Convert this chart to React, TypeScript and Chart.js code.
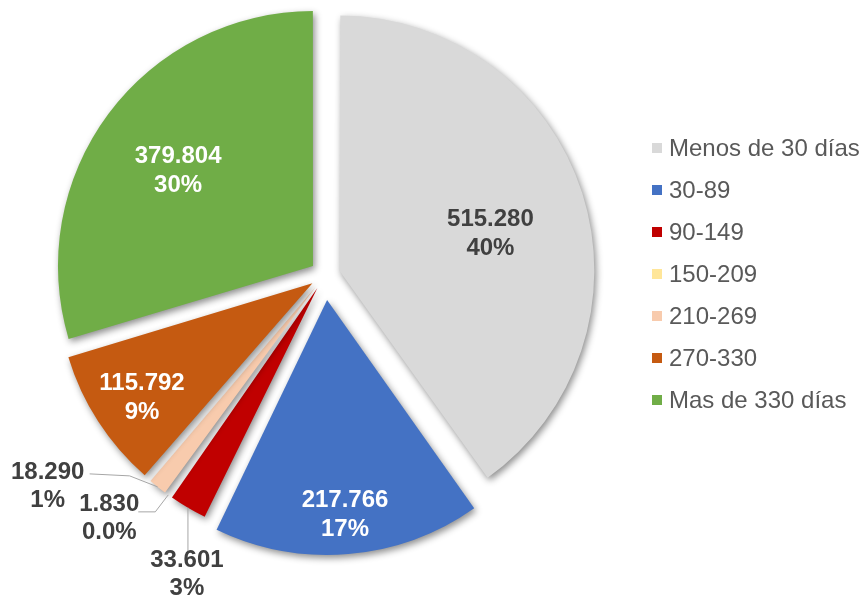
import React, { useEffect, useRef } from "react";
import { Chart, registerables } from "chart.js";

Chart.register(...registerables);

// ---- data ----
const categories = ["Menos de 30 días", "30-89", "90-149", "150-209", "210-269", "270-330", "Mas de 330 días"];
const values = [515280, 217766, 33601, 1830, 18290, 115792, 379804];
const percentLabels = ["40%", "17%", "3%", "0.0%", "1%", "9%", "30%"];

// ---- styles ----
const colors = ["#D9D9D9", "#4472C4", "#C00000", "#FFE699", "#F8CBAD", "#C55A11", "#70AD47"];
const RADIUS = 255;
const explode = [15, 25, 15, 15, 15, 15, 15];
const labelColors = ["#404040", "#FFFFFF", "#404040", "#404040", "#404040", "#FFFFFF", "#FFFFFF"];
// inside labels: radius fraction and angular shift (deg)
const insideLabels: ({ frac: number; shift: number } | null)[] = [
  { frac: 0.61, shift: 4 },
  { frac: 0.845, shift: 0 },
  null,
  null,
  null,
  { frac: 0.805, shift: -1 },
  { frac: 0.647, shift: -1.5 },
];
// outside labels: label centre relative to arc anchor, line start relative to label, elbow relative to start
const outsideLabels: ({ lx: number; ly: number; sx: number; sy: number; ex: number; ey: number } | null)[] = [
  null,
  null,
  { lx: -1, ly: 66.5, sx: 1, sy: -23, ex: 0, ey: 0 },
  { lx: -59, ly: 24, sx: 29, sy: -7, ex: 17, ey: 0 },
  { lx: -110, ly: -1, sx: 42, sy: -12, ex: 40, ey: 2 },
  null,
  null,
];

const fmt = (v: number) => String(v).replace(/\B(?=(\d{3})+(?!\d))/g, ".");
const FONT = '"Liberation Sans", Arial, sans-serif';

// Chart.js grows an offset arc's radius by offset/4*fix; undo that so all slices keep the same radius
const radiusFixPlugin = {
  id: "radiusFix",
  afterUpdate(chart: any) {
    const meta = chart.getDatasetMeta(0);
    meta.data.forEach((arc: any, i: number) => {
      const circ = arc.endAngle - arc.startAngle;
      const fix = 1 - Math.sin(Math.min(Math.PI, circ));
      arc.outerRadius = RADIUS - explode[i] * fix;
    });
  },
};

const shadowPlugin = {
  id: "sliceShadow",
  beforeDatasetsDraw(chart: any) {
    const ctx = chart.ctx;
    ctx.save();
    ctx.shadowColor = "rgba(0,0,0,0.45)";
    ctx.shadowBlur = 7;
    ctx.shadowOffsetX = 2;
    ctx.shadowOffsetY = 3;
  },
  afterDatasetsDraw(chart: any) {
    chart.ctx.restore();
  },
};

const labelPlugin = {
  id: "sliceLabels",
  afterDraw(chart: any) {
    const ctx = chart.ctx;
    const meta = chart.getDatasetMeta(0);
    ctx.save();
    ctx.textAlign = "center";
    ctx.textBaseline = "middle";
    ctx.font = `bold 24px ${FONT}`;
    meta.data.forEach((arc: any, i: number) => {
      const p = arc.getProps(["x", "y", "startAngle", "endAngle"], true);
      const mid = (p.startAngle + p.endAngle) / 2;
      const d = explode[i];
      const tx = p.x + Math.cos(mid) * d;
      const ty = p.y + Math.sin(mid) * d;
      const r = RADIUS;
      const l1 = fmt(values[i]);
      const l2 = percentLabels[i];
      const ins = insideLabels[i];
      if (ins) {
        const a = mid + (ins.shift * Math.PI) / 180;
        const cx = tx + Math.cos(a) * r * ins.frac;
        const cy = ty + Math.sin(a) * r * ins.frac;
        ctx.fillStyle = labelColors[i];
        ctx.fillText(l1, cx, cy - 14.5);
        ctx.fillText(l2, cx, cy + 14.5);
      }
      const out = outsideLabels[i];
      if (out) {
        const ax = tx + Math.cos(mid) * r;
        const ay = ty + Math.sin(mid) * r;
        const cx = ax + out.lx;
        const cy = ay + out.ly;
        ctx.fillStyle = "#404040";
        ctx.fillText(l1, cx, cy - 14);
        ctx.fillText(l2, cx, cy + 14);
        const sx = cx + out.sx;
        const sy = cy + out.sy;
        ctx.strokeStyle = "#A6A6A6";
        ctx.lineWidth = 1;
        ctx.beginPath();
        ctx.moveTo(sx, sy);
        if (out.ex || out.ey) ctx.lineTo(sx + out.ex, sy + out.ey);
        ctx.lineTo(ax, ay);
        ctx.stroke();
      }
    });
    // legend
    ctx.font = `24px ${FONT}`;
    ctx.textAlign = "left";
    const legX = 652;
    const legY = 148;
    const legGap = 42;
    categories.forEach((c, i) => {
      const y = legY + i * legGap;
      ctx.fillStyle = colors[i];
      ctx.fillRect(legX, y - 5, 10, 10);
      ctx.fillStyle = "#595959";
      ctx.fillText(c, legX + 17, y + 1);
    });
    ctx.restore();
  },
};

export default function App() {
  const ref = useRef<HTMLCanvasElement>(null);
  useEffect(() => {
    if (!ref.current) return;
    const chart = new Chart(ref.current, {
      type: "pie",
      data: {
        labels: categories,
        datasets: [
          {
            data: values,
            backgroundColor: colors,
            borderWidth: 0,
            radius: RADIUS,
            offset: explode.map((d) => 4 * d),
          } as any,
        ],
      },
      options: {
        responsive: false,
        devicePixelRatio: 1,
        animation: false,
        layout: { padding: { left: 0, top: 0, right: 213, bottom: 48 } },
        plugins: { legend: { display: false }, tooltip: { enabled: false } },
      },
      plugins: [radiusFixPlugin, shadowPlugin, labelPlugin],
    });
    return () => chart.destroy();
  }, []);
  return (
    <div style={{ position: "absolute", left: 0, top: 0, width: 863, height: 598, background: "#fff" }}>
      <canvas ref={ref} width={863} height={598} style={{ display: "block" }} />
    </div>
  );
}
